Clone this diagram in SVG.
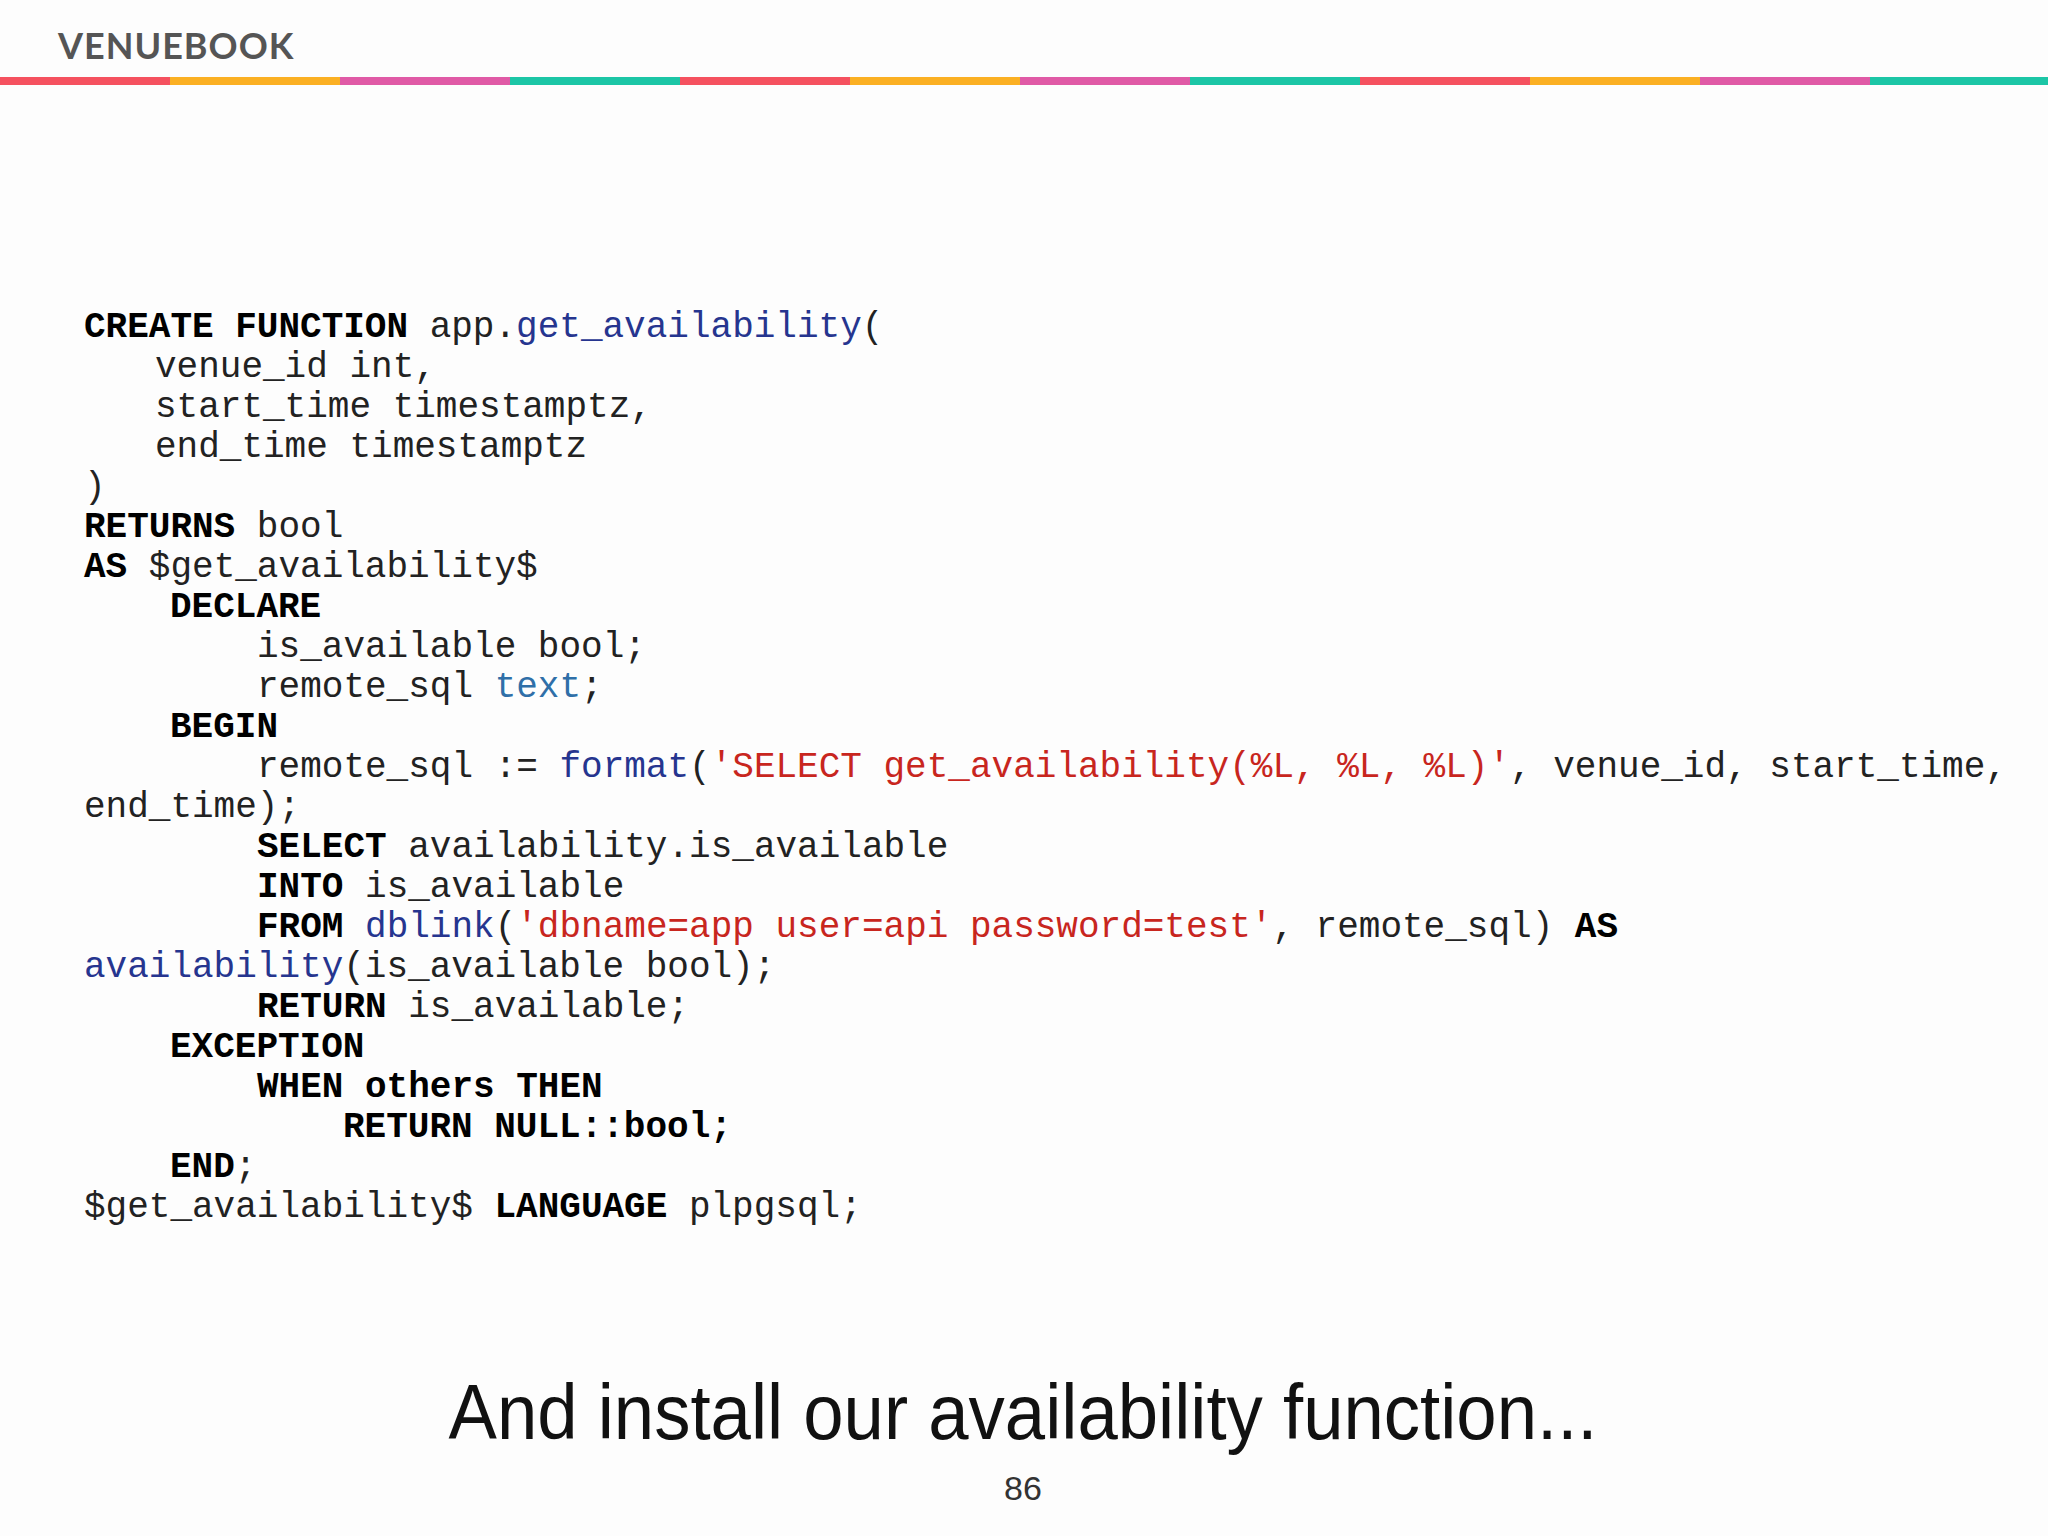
<svg xmlns="http://www.w3.org/2000/svg" width="2048" height="1536" viewBox="0 0 2048 1536">
<style>
.c{font-family:"Liberation Mono","Courier New",monospace;font-size:36px;fill:#222}
.k{font-weight:bold;fill:#000}
.f{fill:#26358f}
.t{fill:#2f6fa8}
.s{fill:#c8261e}
</style>
<rect width="2048" height="1536" fill="#fdfdfd"/>
<g id="header">
<text x="58" y="59" font-family="Lato,'Open Sans',sans-serif" font-size="36" font-weight="bold" fill="#555" letter-spacing="1">VENUEBOOK</text>
<rect x="0" y="77" width="170" height="8" fill="#f5515f"/>
<rect x="170" y="77" width="170" height="8" fill="#fbb023"/>
<rect x="340" y="77" width="170" height="8" fill="#e05aa6"/>
<rect x="510" y="77" width="170" height="8" fill="#1cc6a6"/>
<rect x="680" y="77" width="170" height="8" fill="#f5515f"/>
<rect x="850" y="77" width="170" height="8" fill="#fbb023"/>
<rect x="1020" y="77" width="170" height="8" fill="#e05aa6"/>
<rect x="1190" y="77" width="170" height="8" fill="#1cc6a6"/>
<rect x="1360" y="77" width="170" height="8" fill="#f5515f"/>
<rect x="1530" y="77" width="170" height="8" fill="#fbb023"/>
<rect x="1700" y="77" width="170" height="8" fill="#e05aa6"/>
<rect x="1870" y="77" width="178" height="8" fill="#1cc6a6"/>
</g>
<g id="code" class="c" xml:space="preserve">
<text x="84" y="337"><tspan class="k">CREATE FUNCTION</tspan> app.<tspan class="f">get_availability</tspan>(</text>
<text x="155" y="377">venue_id int,</text>
<text x="155" y="417">start_time timestamptz,</text>
<text x="155" y="457">end_time timestamptz</text>
<text x="84" y="497">)</text>
<text x="84" y="537"><tspan class="k">RETURNS</tspan> bool</text>
<text x="84" y="577"><tspan class="k">AS</tspan> $get_availability$</text>
<text x="170" y="617" class="k">DECLARE</text>
<text x="257" y="657">is_available bool;</text>
<text x="257" y="697">remote_sql <tspan class="t">text</tspan>;</text>
<text x="170" y="737" class="k">BEGIN</text>
<text x="257" y="777">remote_sql := <tspan class="f">format</tspan>(<tspan class="s">'SELECT get_availability(%L, %L, %L)'</tspan>, venue_id, start_time,</text>
<text x="84" y="817">end_time);</text>
<text x="257" y="857"><tspan class="k">SELECT</tspan> availability.is_available</text>
<text x="257" y="897"><tspan class="k">INTO</tspan> is_available</text>
<text x="257" y="937"><tspan class="k">FROM</tspan> <tspan class="f">dblink</tspan>(<tspan class="s">'dbname=app user=api password=test'</tspan>, remote_sql) <tspan class="k">AS</tspan></text>
<text x="84" y="977"><tspan class="f">availability</tspan>(is_available bool);</text>
<text x="257" y="1017"><tspan class="k">RETURN</tspan> is_available;</text>
<text x="170" y="1057" class="k">EXCEPTION</text>
<text x="257" y="1097" class="k">WHEN others THEN</text>
<text x="343" y="1137" class="k">RETURN NULL::bool;</text>
<text x="170" y="1177"><tspan class="k">END</tspan>;</text>
<text x="84" y="1217">$get_availability$ <tspan class="k">LANGUAGE</tspan> plpgsql;</text>
</g>
<g id="footer" font-family="'Liberation Sans',Arial,sans-serif" fill="#111" text-anchor="middle">
<text x="1023" y="1439" font-size="78" textLength="1149" lengthAdjust="spacingAndGlyphs">And install our availability function...</text>
<text x="1023" y="1500" font-size="34" fill="#333">86</text>
</g>
</svg>
